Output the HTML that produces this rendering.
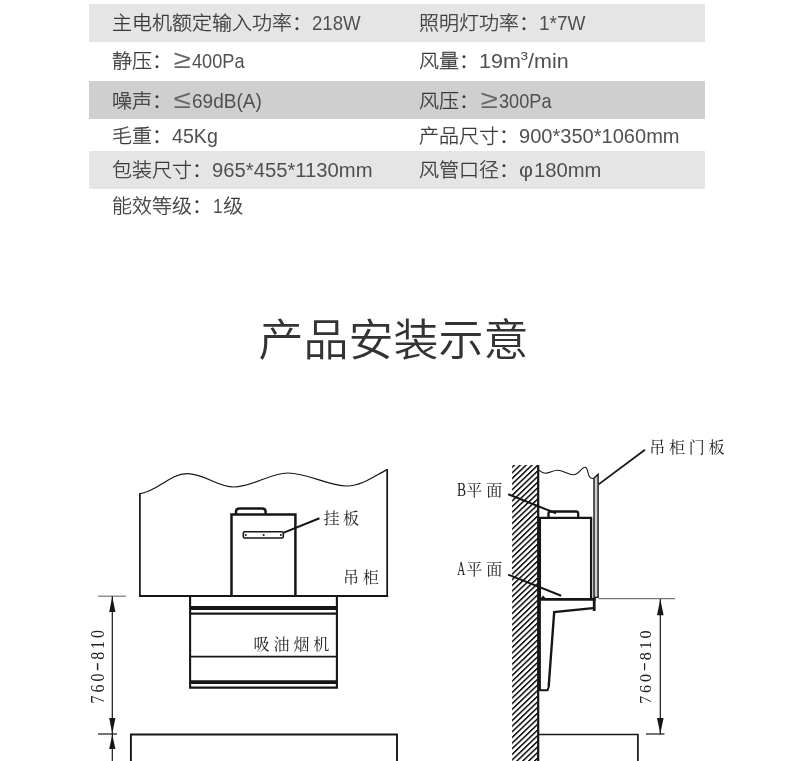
<!DOCTYPE html>
<html lang="zh-CN">
<head>
<meta charset="utf-8">
<title>产品安装示意</title>
<style>
html,body{margin:0;padding:0;background:#fff;}
body{width:790px;height:761px;overflow:hidden;position:relative;
  font-family:"Liberation Sans","Noto Sans CJK SC",sans-serif;font-weight:300;color:#3a3a3a;}
.page{will-change:transform;position:absolute;left:0;top:0;width:790px;height:761px;overflow:hidden;background:#fff;}
.band{position:absolute;left:88.8px;width:616px;}
.b1{top:4px;height:37.7px;background:#e5e5e5;}
.b3{top:81px;height:37.6px;background:#cfcfcf;}
.b5{top:151.3px;height:37.3px;background:#e5e5e5;}
.c{-webkit-text-stroke:0.3px;position:absolute;font-size:20px;line-height:30px;height:30px;white-space:nowrap;margin:0;transform:translateY(0.3px) scaleY(0.955);transform-origin:0 22px;}
.l{left:112px;}
.r{left:419px;}
.n{display:inline-block;font-size:20.6px;line-height:0;transform-origin:0 50%;color:#505050;-webkit-text-stroke:0;}
.u{position:relative;top:-3px;}
.s{display:inline-block;width:20px;font-size:27px;line-height:0;text-align:center;transform:scaleX(1.16);color:#666;-webkit-text-stroke:0;}
h2{position:absolute;left:0;top:306px;width:790px;margin:0;text-align:center;font-size:45px;line-height:70px;
  font-weight:350;color:#333;text-indent:-3px;transform:scaleY(0.975);transform-origin:0 46px;}
svg{position:absolute;left:0;top:0;}
svg text{font-family:"Liberation Serif","Noto Serif CJK SC",serif;font-weight:400;fill:#222;}
</style>
</head>
<body>
<div class="page">
  <div class="band b1"></div>
  <div class="band b3"></div>
  <div class="band b5"></div>

  <p class="c l" style="top:8px">主电机额定输入功率：<span class="n" style="transform:scaleX(0.9052)">218W</span></p>
  <p class="c r" style="top:8px">照明灯功率：<span class="n" style="transform:scaleX(0.9205);margin-left:0.49px">1*7W</span></p>
  <p class="c l" style="top:46px">静压：<span class="s">≥</span><span class="n" style="transform:scaleX(0.8816)">400Pa</span></p>
  <p class="c r" style="top:46px">风量：<span class="n" style="transform:scaleX(1.0452);margin-left:0.31px">19m<span class="u">³</span>/min</span></p>
  <p class="c l" style="top:86px">噪声：<span class="s">≤</span><span class="n" style="transform:scaleX(0.9232);margin-left:0.2px">69dB(A)</span></p>
  <p class="c r" style="top:86px">风压：<span class="s">≥</span><span class="n" style="transform:scaleX(0.8811)">300Pa</span></p>
  <p class="c l" style="top:121px">毛重：<span class="n" style="transform:scaleX(0.9541)">45Kg</span></p>
  <p class="c r" style="top:121px">产品尺寸：<span class="n" style="transform:scaleX(0.9738)">900*350*1060mm</span></p>
  <p class="c l" style="top:155px">包装尺寸：<span class="n" style="transform:scaleX(0.9829)">965*455*1130mm</span></p>
  <p class="c r" style="top:155px">风管口径：<span class="n" style="transform:scaleX(1.0538);margin-left:0.2px;width:14.5px">φ</span><span class="n" style="transform:scaleX(0.981);margin-left:0.4px">180mm</span></p>
  <p class="c l" style="top:191px">能效等级：<span class="n" style="transform:scaleX(0.8333);margin-left:0.62px;width:10.7px">1</span>级</p>

  <h2>产品安装示意</h2>

  <svg width="790" height="761" viewBox="0 0 790 761">
    <defs>
      <pattern id="hatch" patternUnits="userSpaceOnUse" width="5.88" height="5.63" patternTransform="translate(512.1 460.5) skewY(-43.7)">
        <rect x="0" y="0" width="5.88" height="2.2" fill="#161616"/>
      </pattern>
    </defs>
    <rect x="512.1" y="465" width="26" height="296" fill="url(#hatch)"/>
    <g fill="none" stroke="#161616" stroke-width="1.7" stroke-linejoin="miter">
      <!-- LEFT: front view -->
      <path stroke-width="1.2" stroke-linecap="round" d="M139.9 493.6 C156 492.5 170 473.6 187 473.6 C205 473.6 217 487 234 487 C252 487 270 473 288 473 C308 473 328 486 347 486 C362 486 376 475 387.2 469.6"/>
      <path stroke-width="1.7" d="M139.9 595.9 V493.2 M387.2 469.3 V595.9"/>
      <path stroke-width="2" d="M139 595.9 H388.1"/>
      <path stroke-width="2.5" d="M231.5 595.9 V514.4 H295.4 V595.9"/>
      <path stroke-width="2.5" d="M236 514 V511.6 Q236 508.5 239.4 508.5 H262.2 Q265.6 508.5 265.6 511.6 V514"/>
      <rect x="243.3" y="531.8" width="40" height="6.2" rx="1.4" stroke-width="1.6"/>
      <path stroke-width="2.1" d="M283.8 532.6 L319.5 518.3"/>
      <path stroke-width="2.1" d="M190.1 596 V687.6 H336.9 V596"/>
      <path stroke-width="3.8" d="M190 608 H337"/>
      <path stroke-width="2.3" d="M190 613.6 H337"/>
      <path stroke-width="1.7" d="M190 656.7 H337"/>
      <path stroke-width="3.8" d="M190 682.2 H337"/>
      <path stroke-width="1.9" d="M130.9 761 V734.5 H397 V761"/>
      <!-- left dimension -->
      <path stroke="#777" stroke-width="1.2" d="M98 596.2 H126"/>
      <path stroke-width="1.2" d="M98 734 H117"/>
      <path stroke-width="1.2" d="M112.3 596 V761"/>
      <!-- RIGHT: side view -->
      <path stroke-width="2.2" d="M538.2 465 V761"/>
      <path stroke-width="1.1" d="M538.9 470.2 C541 472 543 473.2 545.2 473.2 C549.5 473.2 553 470.2 557.3 470.2 C563 470.2 568 474.7 573.5 474.7 C578.5 474.7 581.5 467.2 585.2 467.2 C588.2 467.2 587.6 476.4 590.5 477.8 C591.5 478.3 592.5 478.6 593.6 478.4"/>
      <path stroke-width="1.4" fill="#cfcfcf" d="M594 597.4 V478 L598.1 474.4 V597.4 Z"/>
      <path stroke-width="2.3" d="M539.9 598.5 V517.8 H591.1 V598.5"/>
      <path stroke-width="2.3" d="M548.5 517.3 V513.6 Q548.5 511.5 550.6 511.5 H576 Q578.2 511.5 578.2 513.6 V517.3"/>
      <path stroke-width="2" d="M508.2 494.3 L556 513.3"/>
      <path stroke-width="2" d="M508.2 574.6 L561.2 595.8"/>
      <path stroke-width="1.8" d="M645 449.8 L598.6 484.4"/>
      <path stroke-width="2.8" d="M540 599.3 H595.6"/>
      <path stroke-width="2.8" d="M594.2 598 V611"/>
      <path stroke-width="2.4" d="M593 608.1 L554.2 612 L548.7 686"/>
      <path stroke-width="2.2" d="M539.8 598 V691"/>
      <path stroke-width="2" d="M540 690.3 H547.5 L549.3 685"/>
      <path stroke-width="1.7" d="M539 734.5 H637.9 V761"/>
      <!-- right dimension -->
      <path stroke="#777" stroke-width="1.1" d="M598.5 598.6 H675"/>
      <path stroke-width="1.2" d="M646 734 H664.5"/>
      <path stroke-width="1.2" d="M660.3 599 V734"/>
    </g>
    <g fill="#161616" stroke="none">
      <circle cx="245.8" cy="535.1" r="1"/><circle cx="263.7" cy="535.1" r="1"/><circle cx="280.9" cy="535.1" r="1"/>
      <path d="M112.3 596.4 L109.2 612 H115.4 Z"/>
      <path d="M112.3 733.8 L109.2 718 H115.4 Z"/>
      <path d="M112.3 734.4 L109.2 749 H115.4 Z"/>
      <path d="M660.3 599.2 L657 615.2 H663.6 Z"/>
      <path d="M660.3 733.8 L657 718 H663.6 Z"/>
      <path d="M541 598 L543 595.5 L545.5 598 Z"/>
    </g>
    <g font-size="16" id="labels">
      <text id="t1" x="323.6 343.1" y="523.6">挂板</text>
      <text id="t2" x="343 362.8" y="583">吊柜</text>
      <text id="t3" x="253.6 273.5 293.4 313.3" y="650">吸油烟机</text>
      <text id="t4"><tspan x="456.9" y="495.8" font-size="18.5" textLength="9.1" lengthAdjust="spacingAndGlyphs">B</tspan><tspan x="466.2 486.3" y="496">平面</tspan></text>
      <text id="t5"><tspan x="457.2" y="574.6" font-size="18.5" textLength="8" lengthAdjust="spacingAndGlyphs">A</tspan><tspan x="466.2 486.3" y="575">平面</tspan></text>
      <text id="t6" x="649.2 669 688.8 708.6" y="453.2">吊柜门板</text>
      <text id="t7" font-size="18.8" transform="translate(104.2 703.4) rotate(-90) scale(0.85 1)"><tspan x="0 12.82 25.65" y="0">760</tspan><tspan x="37.8" y="-2.6" textLength="10.7" lengthAdjust="spacingAndGlyphs">-</tspan><tspan x="51.29 64.12 76.94" y="0">810</tspan></text>
      <text id="t8" font-size="17.4" transform="translate(651.2 703.8) rotate(-90) scale(0.92 1)"><tspan x="0 11.85 23.7" y="0">760</tspan><tspan x="35.3" y="-2.5" textLength="9.8" lengthAdjust="spacingAndGlyphs">-</tspan><tspan x="47.4 59.25 71.1" y="0">810</tspan></text>
    </g>
  </svg>

</div>
</body>
</html>
